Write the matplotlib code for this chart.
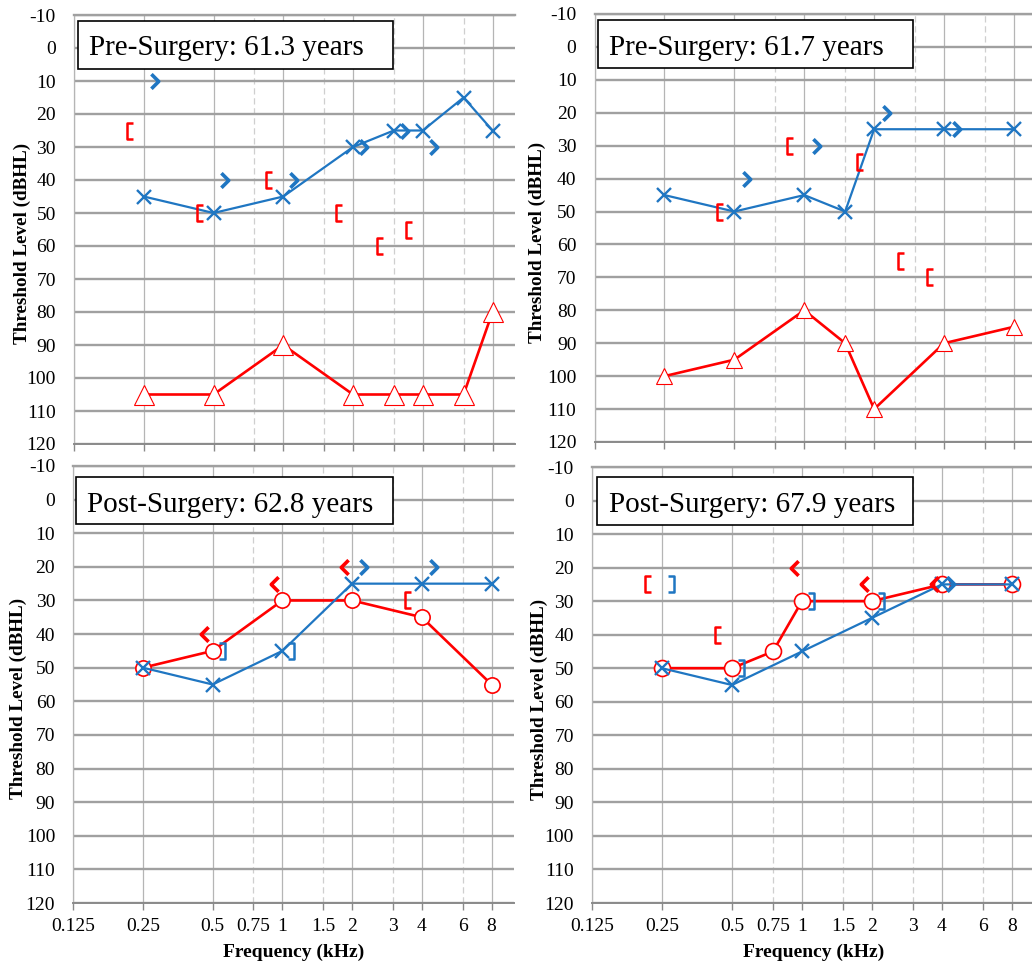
import matplotlib
matplotlib.use("Agg")
import matplotlib.pyplot as plt
from matplotlib.path import Path
from matplotlib.markers import MarkerStyle
from matplotlib.transforms import ScaledTranslation
from matplotlib.ticker import FixedLocator, FixedFormatter, NullFormatter
import matplotlib.patches as patches

# ---------------- data ----------------
MAJOR_FREQS = [0.125, 0.25, 0.5, 1, 2, 4, 8]
MAJOR_LABELS = ["0.125", "0.25", "0.5", "1", "2", "4", "8"]
MINOR_FREQS = [0.75, 1.5, 3, 6]
MINOR_LABELS = ["0.75", "1.5", "3", "6"]
DB_TICKS = list(range(-10, 121, 10))
DB_LABELS = [str(v) for v in DB_TICKS]

# Panel 1: Pre-Surgery 61.3
p1_title = "Pre-Surgery: 61.3 years"
p1_left_ac_f = [0.25, 0.5, 1, 2, 3, 4, 6, 8]
p1_left_ac_db = [45, 50, 45, 30, 25, 25, 15, 25]
p1_left_bc_f = [0.25, 0.5, 1, 2, 3, 4]
p1_left_bc_db = [10, 40, 40, 30, 25, 30]
p1_right_bcm_f = [0.25, 0.5, 1, 2, 3, 4]
p1_right_bcm_db = [25, 50, 40, 50, 60, 55]
p1_right_acm_f = [0.25, 0.5, 1, 2, 3, 4, 6, 8]
p1_right_acm_db = [105, 105, 90, 105, 105, 105, 105, 80]

# Panel 2: Pre-Surgery 61.7
p2_title = "Pre-Surgery: 61.7 years"
p2_left_ac_f = [0.25, 0.5, 1, 1.5, 2, 4, 8]
p2_left_ac_db = [45, 50, 45, 50, 25, 25, 25]
p2_left_bc_f = [0.5, 1, 2, 4]
p2_left_bc_db = [40, 30, 20, 25]
p2_right_bcm_f = [0.5, 1, 2, 3, 4]
p2_right_bcm_db = [50, 30, 35, 65, 70]
p2_right_acm_f = [0.25, 0.5, 1, 1.5, 2, 4, 8]
p2_right_acm_db = [100, 95, 80, 90, 110, 90, 85]

# Panel 3: Post-Surgery 62.8
p3_title = "Post-Surgery: 62.8 years"
p3_right_ac_f = [0.25, 0.5, 1, 2, 4, 8]
p3_right_ac_db = [50, 45, 30, 30, 35, 55]
p3_left_ac_f = [0.25, 0.5, 1, 2, 4, 8]
p3_left_ac_db = [50, 55, 45, 25, 25, 25]
p3_right_bc_f = [0.5, 1, 2]
p3_right_bc_db = [40, 25, 20]
p3_left_bc_f = [2, 4]
p3_left_bc_db = [20, 20]
p3_left_bcm_f = [0.5, 1]
p3_left_bcm_db = [45, 45]
p3_right_bcm_f = [4]
p3_right_bcm_db = [30]

# Panel 4: Post-Surgery 67.9
p4_title = "Post-Surgery: 67.9 years"
p4_right_ac_f = [0.25, 0.5, 0.75, 1, 2, 4, 8]
p4_right_ac_db = [50, 50, 45, 30, 30, 25, 25]
p4_left_ac_f = [0.25, 0.5, 1, 2, 4, 8]
p4_left_ac_db = [50, 55, 45, 35, 25, 25]
p4_right_bcm_f = [0.25, 0.5]
p4_right_bcm_db = [25, 40]
p4_left_bcm_f = [0.25, 0.5, 1, 2]
p4_left_bcm_db = [25, 50, 30, 30]
p4_right_bc_f = [1, 2, 4]
p4_right_bc_db = [20, 25, 25]
p4_left_bc_f = [4]
p4_left_bc_db = [25]

# ---------------- style ----------------
BLUE = "#1F76C2"
RED = "#FF0000"
HGRID = "#A0A0A0"
VGRID = "#B5B5B5"
DGRID = "#CFCFCF"
SERIF = ["Liberation Serif", "DejaVu Serif"]
plt.rcParams["font.family"] = SERIF

W, H = 1032, 966
fig = plt.figure(figsize=(W / 100, H / 100), dpi=100)

M, L = Path.MOVETO, Path.LINETO
GT = MarkerStyle(Path([(-0.28, 0.5), (0.22, 0.0), (-0.28, -0.5)], [M, L, L]),
                 joinstyle="miter", capstyle="butt")
LT = MarkerStyle(Path([(0.28, 0.5), (-0.22, 0.0), (0.28, -0.5)], [M, L, L]),
                 joinstyle="miter", capstyle="butt")
LBR = MarkerStyle(Path([(0.22, 0.5), (-0.22, 0.5), (-0.22, -0.5), (0.22, -0.5)], [M, L, L, L]),
                  joinstyle="miter", capstyle="butt")
RBR = MarkerStyle(Path([(-0.22, 0.5), (0.22, 0.5), (0.22, -0.5), (-0.22, -0.5)], [M, L, L, L]),
                  joinstyle="miter", capstyle="butt")


def make_axes(l, r, t, b, show_xlabels):
    ax = fig.add_axes([l / W, 1 - b / H, (r - l) / W, (b - t) / H])
    ax.set_xscale("log", base=2)
    ax.set_xlim(0.125, 10)
    ax.set_ylim(120, -10)
    ax.set_axisbelow(True)
    ax.xaxis.set_major_locator(FixedLocator(MAJOR_FREQS))
    ax.xaxis.set_minor_locator(FixedLocator(MINOR_FREQS))
    if show_xlabels:
        ax.xaxis.set_major_formatter(FixedFormatter(MAJOR_LABELS))
        ax.xaxis.set_minor_formatter(FixedFormatter(MINOR_LABELS))
    else:
        ax.xaxis.set_major_formatter(NullFormatter())
        ax.xaxis.set_minor_formatter(NullFormatter())
    ax.set_yticks(DB_TICKS)
    ax.set_yticklabels(DB_LABELS)
    ax.tick_params(axis="y", length=0, pad=13, labelsize=14)
    ax.tick_params(axis="x", which="both", direction="out", length=5, width=1,
                   color="#8A8A8A", pad=6, labelsize=14)
    ax.yaxis.grid(True, color=HGRID, lw=1.7)
    ax.xaxis.grid(True, which="major", color=VGRID, lw=0.9)
    ax.xaxis.grid(True, which="minor", color=DGRID, lw=0.9, ls=(0, (5, 3)))
    ax.spines["right"].set_visible(False)
    ax.spines["top"].set_color(HGRID)
    ax.spines["top"].set_linewidth(1.7)
    ax.spines["left"].set_color(VGRID)
    ax.spines["left"].set_linewidth(0.9)
    ax.spines["bottom"].set_color("#8A8A8A")
    ax.spines["bottom"].set_linewidth(1.4)
    return ax


def offset(ax, dx_pt):
    return ax.transData + ScaledTranslation(dx_pt / 72, 0, fig.dpi_scale_trans)


def symbols(ax, f, db, marker, color, dx, ms=10.5, mew=2.6):
    ax.plot(f, db, ls="none", marker=marker, ms=ms, mec=color, mfc="none", mew=mew,
            transform=offset(ax, dx), zorder=6, clip_on=False)


def title_box(rect_px, text_xy, text):
    x0, x1, y0, y1 = rect_px
    rect = patches.Rectangle((x0 / W, 1 - y1 / H), (x1 - x0) / W, (y1 - y0) / H,
                             transform=fig.transFigure, facecolor="white",
                             edgecolor="black", lw=1.2, zorder=10)
    fig.add_artist(rect)
    fig.text(text_xy[0] / W, 1 - text_xy[1] / H, text, fontsize=21,
             ha="left", va="baseline", zorder=11)


def labels(ax, ylab_x, show_x):
    ax.text(ylab_x, 0.467, "Threshold Level (dBHL)", transform=ax.transAxes,
            rotation=90, ha="center", va="center", fontsize=13.8, fontweight="bold")
    if show_x:
        ax.text(0.5, -0.114, "Frequency (kHz)", transform=ax.transAxes,
                ha="center", va="center", fontsize=14, fontweight="bold")


# ---------------- panel 1 ----------------
ax1 = make_axes(74, 515, 15, 444, False)
ax1.plot(p1_right_acm_f, p1_right_acm_db, color=RED, lw=1.9, marker="^", ms=14,
         mfc="white", mec=RED, mew=0.8, zorder=4)
ax1.plot(p1_left_ac_f, p1_left_ac_db, color=BLUE, lw=1.6, marker="x", ms=9.5,
         mew=1.7, zorder=5)
symbols(ax1, p1_left_bc_f, p1_left_bc_db, GT, BLUE, 8)
symbols(ax1, p1_right_bcm_f, p1_right_bcm_db, LBR, RED, -10, ms=11, mew=1.8)
labels(ax1, -0.118, False)
title_box((78, 393, 21, 69), (89, 55), p1_title)

# ---------------- panel 2 ----------------
ax2 = make_axes(594.5, 1036.5, 14, 442, False)
ax2.plot(p2_right_acm_f, p2_right_acm_db, color=RED, lw=1.9, marker="^", ms=11,
         mfc="white", mec=RED, mew=0.8, zorder=4)
ax2.plot(p2_left_ac_f, p2_left_ac_db, color=BLUE, lw=1.6, marker="x", ms=9.5,
         mew=1.7, zorder=5)
symbols(ax2, p2_left_bc_f, p2_left_bc_db, GT, BLUE, 9)
symbols(ax2, p2_right_bcm_f, p2_right_bcm_db, LBR, RED, -10, ms=11, mew=1.8)
labels(ax2, -0.129, False)
title_box((598, 913, 20, 68), (609, 55), p2_title)

# ---------------- panel 3 ----------------
ax3 = make_axes(73.2, 514, 466, 903, True)
ax3.plot(p3_right_ac_f, p3_right_ac_db, color=RED, lw=1.9, marker="o", ms=11,
         mfc="white", mec=RED, mew=1.2, zorder=4)
ax3.plot(p3_left_ac_f, p3_left_ac_db, color=BLUE, lw=1.6, marker="x", ms=9.5,
         mew=1.7, zorder=5)
symbols(ax3, p3_right_bc_f, p3_right_bc_db, LT, RED, -6)
symbols(ax3, p3_left_bc_f, p3_left_bc_db, GT, BLUE, 8.5)
symbols(ax3, p3_left_bcm_f, p3_left_bcm_db, RBR, BLUE, 6.5, ms=11, mew=1.8)
symbols(ax3, p3_right_bcm_f, p3_right_bcm_db, LBR, RED, -10, ms=11, mew=1.8)
labels(ax3, -0.125, True)
title_box((76, 393, 477, 524), (87, 512), p3_title)

# ---------------- panel 4 ----------------
ax4 = make_axes(592, 1034.5, 467, 903, True)
ax4.plot(p4_right_ac_f, p4_right_ac_db, color=RED, lw=1.9, marker="o", ms=11.5,
         mfc="white", mec=RED, mew=1.2, zorder=4)
ax4.plot(p4_left_ac_f, p4_left_ac_db, color=BLUE, lw=1.6, marker="x", ms=9.5,
         mew=1.7, zorder=5)
symbols(ax4, p4_right_bcm_f, p4_right_bcm_db, LBR, RED, -10, ms=11, mew=1.8)
symbols(ax4, p4_left_bcm_f, p4_left_bcm_db, RBR, BLUE, 6.5, ms=11, mew=1.8)
symbols(ax4, p4_right_bc_f, p4_right_bc_db, LT, RED, -5.5)
symbols(ax4, p4_left_bc_f, p4_left_bc_db, GT, BLUE, 6.5)
labels(ax4, -0.118, True)
title_box((597, 913, 477, 525), (609, 512), p4_title)

fig.savefig("out.png", dpi=100, facecolor="white")
